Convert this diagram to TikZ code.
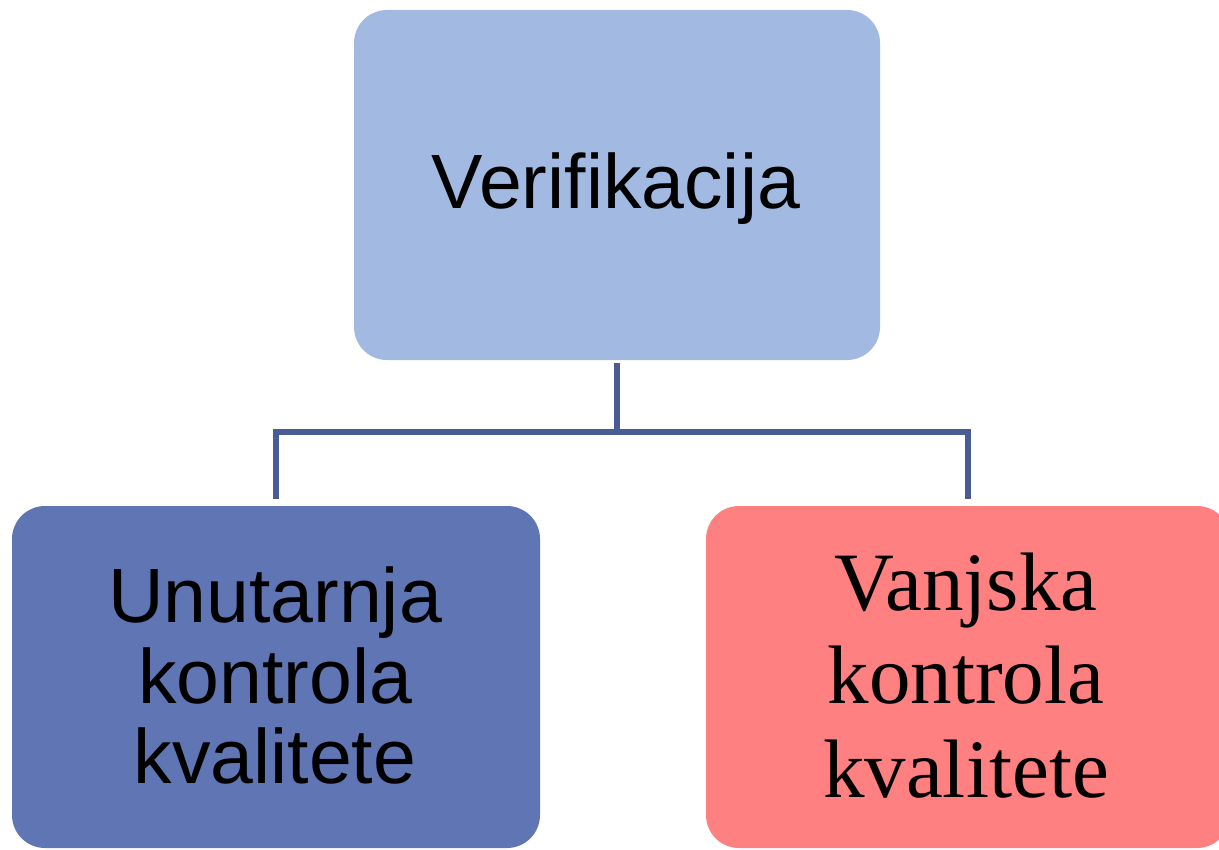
\documentclass[tikz,border=0pt]{standalone}
\usepackage{fontspec}
\setmainfont{Liberation Serif}
\newfontfamily\arialfont{Liberation Sans}
\definecolor{topfill}{HTML}{A2BAE2}
\definecolor{leftfill}{HTML}{6076B4}
\definecolor{rightfill}{HTML}{FF8080}
\definecolor{connc}{HTML}{4A5C94}
\pgfdeclareradialshading{bgshade}{\pgfpoint{0bp}{0bp}}{color(0bp)=(white); color(36bp)=(white); color(50bp)=(black!5)}
\tikzset{
  box/.style={rounded corners=16.5pt, inner sep=0pt, draw=none},
  conn/.style={draw=connc, line width=3pt, line join=miter},
  sanstxt/.style={font=\arialfont\fontsize{38.5}{40}\selectfont, anchor=base, inner sep=0pt},
  seriftxt/.style={font=\fontsize{41.5}{46.5}\selectfont, anchor=base, inner sep=0pt}
}
\begin{document}
\begin{tikzpicture}[x=0.5pt,y=-0.5pt]
\useasboundingbox (0,0) rectangle (1219,850);
\shade[shading=bgshade] (0,0) rectangle (1219,850);
\node[box, fill=topfill, minimum width=263pt, minimum height=175pt] (top) at (617,185) {};
\node[box, fill=leftfill, minimum width=264pt, minimum height=171pt] (left) at (276,677) {};
\node[box, fill=rightfill, minimum width=262pt, minimum height=171pt] (right) at (968,677) {};
\node[sanstxt] (t1) at (616,209) {Verifikacija};
\node[sanstxt] (l1) at (275,622) {Unutarnja};
\node[sanstxt] (l2) at (275,703) {kontrola};
\node[sanstxt] (l3) at (275,783) {kvalitete};
\node[seriftxt] (r1) at (966,610) {Vanjska};
\node[seriftxt] (r2) at (966,703) {kontrola};
\node[seriftxt] (r3) at (966,797) {kvalitete};
\coordinate (j) at (617,432);
\draw[conn] ([yshift=-1.5pt]top.south) -- (j);
\draw[conn] ([yshift=3.5pt]left.north) |- (j) -| ([yshift=3.5pt]right.north);
\end{tikzpicture}
\end{document}
